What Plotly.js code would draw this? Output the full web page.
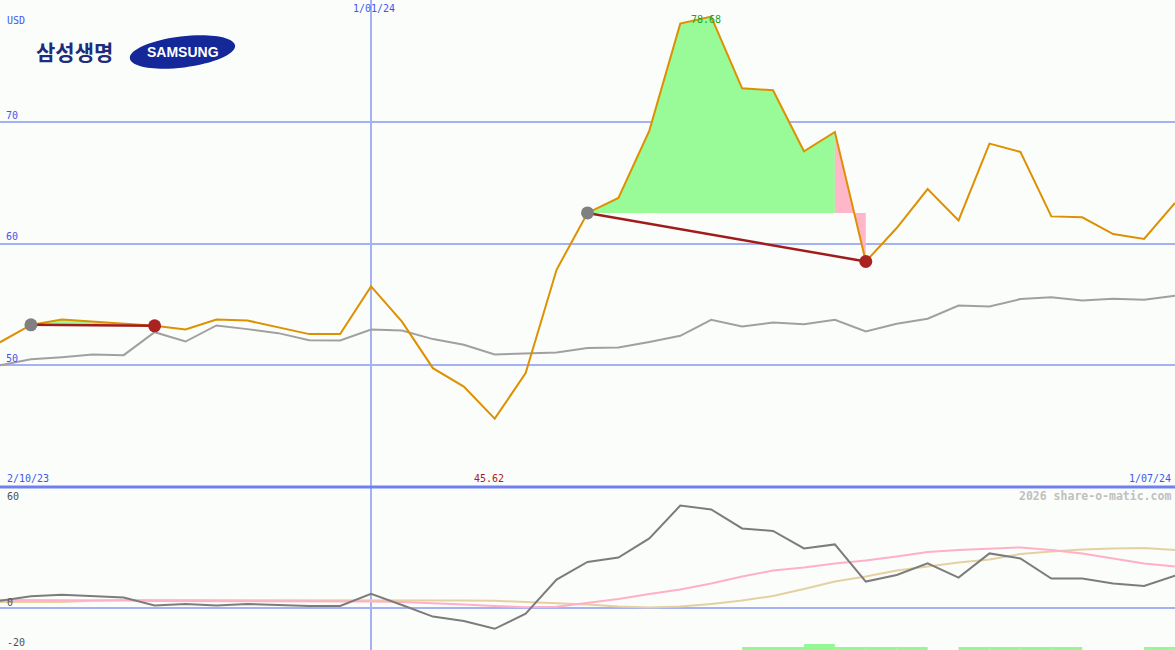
<!DOCTYPE html>
<html>
<head>
<meta charset="utf-8">
<script src="https://cdn.plot.ly/plotly-3.0.1.min.js"></script>
<style>html,body{margin:0;padding:0;background:#fbfdfb;}#chart{width:1175px;height:650px;}</style>
</head>
<body>
<div id="chart"></div>
<script>
// ---------------- data ----------------
const dates = ['2023-10-09','2023-10-16','2023-10-23','2023-10-30','2023-11-06','2023-11-13','2023-11-20','2023-11-27',
  '2023-12-04','2023-12-11','2023-12-18','2023-12-25','2024-01-01','2024-01-08','2024-01-15','2024-01-22','2024-01-29',
  '2024-02-05','2024-02-12','2024-02-19','2024-02-26','2024-03-04','2024-03-11','2024-03-18','2024-03-25',
  '2024-04-01','2024-04-08','2024-04-15','2024-04-22','2024-04-29','2024-05-06','2024-05-13','2024-05-20','2024-05-27',
  '2024-06-03','2024-06-10','2024-06-17','2024-06-24','2024-07-01'];
const price = [51.9,53.33,53.77,53.58,53.44,53.25,52.95,53.77,53.69,53.11,52.57,52.57,56.49,53.6,49.77,48.26,45.62,
  49.36,57.86,62.53,63.76,69.3,78.1,78.68,72.78,72.62,67.6,69.19,58.54,61.29,64.5,61.92,68.23,67.55,62.25,62.17,60.8,60.39,63.35];
const avgLine = [50.0,50.5,50.67,50.89,50.84,52.73,51.96,53.28,52.98,52.65,52.07,52.04,52.95,52.87,52.16,51.69,50.89,
  50.97,51.06,51.42,51.47,51.93,52.43,53.74,53.19,53.52,53.39,53.74,52.78,53.42,53.83,54.92,54.84,55.45,55.61,55.33,55.47,55.39,55.72];
const oscLine = [3.67,5.9,6.67,6.0,5.2,1.3,2.0,1.2,2.0,1.5,1.0,1.0,7.1,1.5,-4.3,-6.5,-10.4,-2.8,14.2,23,25.2,34.8,51.2,
  49.3,39.8,38.5,29.8,31.8,13.2,16.5,22.3,15.2,27.3,24.8,14.7,14.7,12.2,11.0,16.2];
const pinkLine = [4.0,4.0,4.0,4.0,3.8,3.5,3.5,3.5,3.5,3.5,3.5,3.5,3.2,3.0,2.5,1.8,1.0,0.4,0.6,2.6,4.5,7.0,9.3,12.3,
  15.7,18.7,20.3,22.3,23.7,25.7,28.0,29.0,29.8,30.3,29.0,27.3,24.8,22.3,20.7];
const tanLine = [3.0,3.0,3.0,3.6,4.0,4.0,4.0,4.0,4.0,4.0,4.0,3.8,3.7,3.7,3.7,3.7,3.6,3.1,2.6,1.8,0.8,0.2,0.8,2.0,
  3.7,6.0,9.5,13.2,15.7,18.7,20.7,22.7,24.3,27.0,28.2,29.3,29.8,30.0,29.0];
const barHeights = [0,0,0,0,0,0,0,0,0,0,0,0,0,0,0,0,0,0,0,0,0,0,0,0,2,2,3.5,2,2,2,0,2,2,2,2,0,0,2,0];
// signal segments (indices into dates): start, end of green zone, end
const sigStart = [1, 19];
const sigGreenEnd = [3, 27];
const sigEnd = [5, 28];
// tick labels
const mainTicks = [50, 60, 70];
const mainTickText = ['50', '60', '70'];
const lowTicks = [60, 0, -20];
const lowTickText = ['60', '0', '-20'];
const dateLabelFirst = '2/10/23';
const dateLabelMid = '1/01/24';
const dateLabelLast = '1/07/24';
const midIdx = 12;

// ---------------- build ----------------
const W = 1175, H = 650;
const splitPx = 487;
const splitPaper = 1 - splitPx / H;
const mono = 'DejaVu Sans Mono';
const blue = '#4455ee';

const traces = [];
function fillSeg(i0, i1, base, color) {
  const xs = dates.slice(i0, i1 + 1);
  traces.push({x: xs, y: xs.map(() => base), type: 'scatter', mode: 'lines', line: {width: 0}, yaxis: 'y', hoverinfo: 'skip'});
  traces.push({x: xs, y: price.slice(i0, i1 + 1), type: 'scatter', mode: 'lines', line: {width: 0}, fill: 'tonexty', fillcolor: color, yaxis: 'y', hoverinfo: 'skip'});
}
for (let k = 0; k < sigStart.length; k++) {
  const base = price[sigStart[k]];
  fillSeg(sigStart[k], sigGreenEnd[k], base, '#98fb98');
  fillSeg(sigGreenEnd[k], sigEnd[k], base, '#ffb6c8');
}
// bars in lower panel
traces.push({x: dates, y: barHeights, base: -21.5, type: 'bar', yaxis: 'y2', offset: 0, width: 7 * 864e5,
  marker: {color: '#94f894', line: {width: 0}}});
// lower panel lines
traces.push({x: dates, y: tanLine, type: 'scatter', mode: 'lines', line: {color: '#e4d0a0', width: 2}, yaxis: 'y2'});
traces.push({x: dates, y: pinkLine, type: 'scatter', mode: 'lines', line: {color: '#ffb0c8', width: 2}, yaxis: 'y2'});
traces.push({x: dates, y: oscLine, type: 'scatter', mode: 'lines', line: {color: '#7c7c7c', width: 2}, yaxis: 'y2'});
// main lines
traces.push({x: dates, y: avgLine, type: 'scatter', mode: 'lines', line: {color: '#a0a0a0', width: 2}, yaxis: 'y'});
traces.push({x: dates, y: price, type: 'scatter', mode: 'lines', line: {color: '#dd9000', width: 2}, yaxis: 'y'});
for (let k = 0; k < sigStart.length; k++) {
  const s = sigStart[k], e = sigEnd[k];
  traces.push({x: [dates[s], dates[e]], y: [price[s], price[e]], type: 'scatter', mode: 'lines',
    line: {color: '#a01c1c', width: 2.5}, yaxis: 'y'});
  traces.push({x: [dates[s]], y: [price[s]], type: 'scatter', mode: 'markers', marker: {color: '#808080', size: 13}, yaxis: 'y'});
  traces.push({x: [dates[e]], y: [price[e]], type: 'scatter', mode: 'markers', marker: {color: '#aa2222', size: 13}, yaxis: 'y'});
}

// max / min labels
let maxI = 0, minI = 0;
price.forEach((v, i) => { if (v > price[maxI]) maxI = i; if (v < price[minI]) minI = i; });

// SAMSUNG ellipse path (pixel -> paper)
function ellipsePath(cx, cy, a, b, deg) {
  const t = deg * Math.PI / 180, c = Math.cos(t), s = Math.sin(t), k = 0.5523;
  const P = (x, y) => { const X = cx + x * c - y * s, Y = cy + x * s + y * c; return (X / W).toFixed(5) + ',' + (1 - Y / H).toFixed(5); };
  return 'M' + P(a, 0) +
    ' C' + P(a, k * b) + ' ' + P(k * a, b) + ' ' + P(0, b) +
    ' C' + P(-k * a, b) + ' ' + P(-a, k * b) + ' ' + P(-a, 0) +
    ' C' + P(-a, -k * b) + ' ' + P(-k * a, -b) + ' ' + P(0, -b) +
    ' C' + P(k * a, -b) + ' ' + P(a, -k * b) + ' ' + P(a, 0) + ' Z';
}

const annotations = [
  {text: 'USD', xref: 'paper', yref: 'paper', x: 5 / W, y: 1 - 20 / H, xanchor: 'left', yanchor: 'middle', showarrow: false, font: {family: mono, size: 10, color: blue}},
  {text: dateLabelMid, xref: 'x', yref: 'paper', x: dates[midIdx], y: 1, xanchor: 'center', yanchor: 'top', xshift: 3, yshift: -1, showarrow: false, font: {family: mono, size: 10, color: blue}},
  {text: dateLabelFirst, xref: 'paper', yref: 'paper', x: 5 / W, y: splitPaper, xanchor: 'left', yanchor: 'bottom', yshift: 1, showarrow: false, font: {family: mono, size: 10, color: blue}},
  {text: dateLabelLast, xref: 'paper', yref: 'paper', x: 1 - 2 / W, y: splitPaper, xanchor: 'right', yanchor: 'bottom', yshift: 1, showarrow: false, font: {family: mono, size: 10, color: blue}},
  {text: price[minI].toFixed(2), xref: 'x', yref: 'paper', x: dates[minI], y: splitPaper, xanchor: 'center', yanchor: 'bottom', xshift: -6, yshift: 1, showarrow: false, font: {family: mono, size: 10, color: '#aa2020'}},
  {text: price[maxI].toFixed(2), xref: 'x', yref: 'y', x: dates[maxI], y: price[maxI], xanchor: 'center', yanchor: 'middle', xshift: -5, yshift: -3, showarrow: false, font: {family: mono, size: 10, color: '#22a022'}},
  {text: '2026 share-o-matic.com', xref: 'paper', yref: 'paper', x: 1 - 2 / W, y: 1 - 496 / H, xanchor: 'right', yanchor: 'middle', showarrow: false, font: {family: mono, size: 11.5, color: '#c0c0c0', weight: 700}},
  {text: '삼성생명', xref: 'paper', yref: 'paper', x: 74 / W, y: 1 - 51 / H, xanchor: 'center', yanchor: 'middle', showarrow: false, font: {family: 'Noto Sans CJK KR', size: 21, color: '#1e2c7c', weight: 700}},
  {text: 'SAMSUNG', xref: 'paper', yref: 'paper', x: 183 / W, y: 1 - 52 / H, xanchor: 'center', yanchor: 'middle', showarrow: false, font: {family: 'Liberation Sans', size: 14, color: '#ffffff', weight: 700}}
];
lowTicks.forEach((v, i) => {
  annotations.push({text: lowTickText[i], xref: 'paper', yref: 'y2', x: 5 / W, y: v, xanchor: 'left',
    yanchor: i === 0 ? 'top' : 'bottom', yshift: i === 0 ? -1 : -2, showarrow: false, font: {family: mono, size: 10, color: '#505050'}});
});

const layout = {
  width: W, height: H, margin: {l: 0, r: 0, t: 0, b: 0},
  paper_bgcolor: '#fbfdfb', plot_bgcolor: '#fbfdfb', showlegend: false,
  xaxis: {type: 'date', range: [dates[0], dates[dates.length - 1]], tickvals: [dates[midIdx]], showticklabels: false,
    showgrid: true, gridcolor: '#a4b2f4', gridwidth: 1.5, zeroline: false, showline: false, ticks: ''},
  yaxis: {domain: [splitPaper, 1], range: [40, 80.04], tickvals: mainTicks, ticktext: mainTickText,
    ticklabelposition: 'inside top', ticklabelstandoff: 3, tickfont: {family: mono, size: 10, color: blue},
    showgrid: true, gridcolor: '#a4b2f4', gridwidth: 2, zeroline: false, showline: false, ticks: ''},
  yaxis2: {domain: [0, splitPaper], range: [-21, 60.5], tickvals: [0], showticklabels: false,
    showgrid: true, gridcolor: '#a4b2f4', gridwidth: 2, zeroline: false, showline: false, ticks: ''},
  shapes: [
    {type: 'line', xref: 'paper', yref: 'paper', x0: 0, x1: 1, y0: splitPaper, y1: splitPaper, line: {color: '#7080f0', width: 3}},
    {type: 'path', xref: 'paper', yref: 'paper', path: ellipsePath(182.5, 52, 53, 15.5, -7), fillcolor: '#14289a', line: {width: 0}}
  ],
  annotations: annotations
};

Plotly.newPlot('chart', traces, layout, {displayModeBar: false, staticPlot: true});
</script>
</body>
</html>
